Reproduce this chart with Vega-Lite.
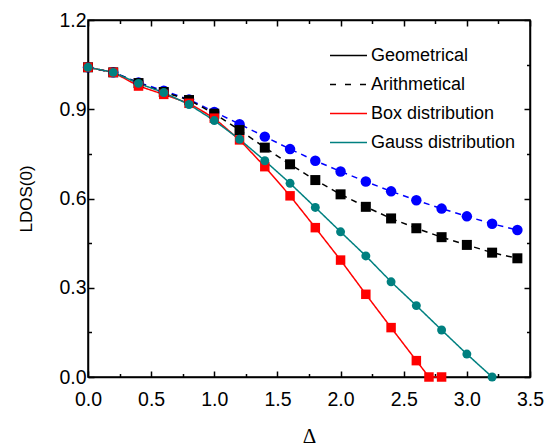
{
  "$schema": "https://vega.github.io/schema/vega-lite/v6.json",
  "width": 442,
  "height": 357,
  "autosize": {"type": "none"},
  "padding": {"left": 88, "top": 20, "right": 27, "bottom": 69},
  "background": "white",
  "config": {
    "view": {"stroke": "black", "strokeWidth": 1.5},
    "font": "Liberation Sans",
    "axis": {
      "domainColor": "black",
      "domainWidth": 1.5,
      "tickColor": "black",
      "tickWidth": 1.5,
      "grid": false,
      "labelColor": "black",
      "labelFontSize": 19.5,
      "labelFont": "Liberation Sans",
      "titleColor": "black",
      "titleFontWeight": "normal"
    }
  },
  "data": {
    "values": [
      {"series": "Geometrical", "x": 0.0, "y": 1.041},
      {"series": "Geometrical", "x": 0.2, "y": 1.024},
      {"series": "Geometrical", "x": 0.4, "y": 0.99},
      {"series": "Geometrical", "x": 0.6, "y": 0.962},
      {"series": "Geometrical", "x": 0.8, "y": 0.933},
      {"series": "Geometrical", "x": 1.0, "y": 0.891},
      {"series": "Geometrical", "x": 1.2, "y": 0.85},
      {"series": "Geometrical", "x": 1.4, "y": 0.808},
      {"series": "Geometrical", "x": 1.6, "y": 0.766},
      {"series": "Geometrical", "x": 1.8, "y": 0.727},
      {"series": "Geometrical", "x": 2.0, "y": 0.691},
      {"series": "Geometrical", "x": 2.2, "y": 0.657},
      {"series": "Geometrical", "x": 2.4, "y": 0.624},
      {"series": "Geometrical", "x": 2.6, "y": 0.594},
      {"series": "Geometrical", "x": 2.8, "y": 0.566},
      {"series": "Geometrical", "x": 3.0, "y": 0.54},
      {"series": "Geometrical", "x": 3.2, "y": 0.515},
      {"series": "Geometrical", "x": 3.4, "y": 0.494},
      {"series": "Arithmetical", "x": 0.0, "y": 1.041},
      {"series": "Arithmetical", "x": 0.2, "y": 1.024},
      {"series": "Arithmetical", "x": 0.4, "y": 0.988},
      {"series": "Arithmetical", "x": 0.6, "y": 0.958},
      {"series": "Arithmetical", "x": 0.8, "y": 0.931},
      {"series": "Arithmetical", "x": 1.0, "y": 0.885},
      {"series": "Arithmetical", "x": 1.2, "y": 0.83},
      {"series": "Arithmetical", "x": 1.4, "y": 0.771},
      {"series": "Arithmetical", "x": 1.6, "y": 0.715},
      {"series": "Arithmetical", "x": 1.8, "y": 0.662},
      {"series": "Arithmetical", "x": 2.0, "y": 0.614},
      {"series": "Arithmetical", "x": 2.2, "y": 0.572},
      {"series": "Arithmetical", "x": 2.4, "y": 0.533},
      {"series": "Arithmetical", "x": 2.6, "y": 0.5},
      {"series": "Arithmetical", "x": 2.8, "y": 0.47},
      {"series": "Arithmetical", "x": 3.0, "y": 0.444},
      {"series": "Arithmetical", "x": 3.2, "y": 0.418},
      {"series": "Arithmetical", "x": 3.4, "y": 0.399},
      {"series": "Box distribution", "x": 0.0, "y": 1.041},
      {"series": "Box distribution", "x": 0.2, "y": 1.024},
      {"series": "Box distribution", "x": 0.4, "y": 0.978},
      {"series": "Box distribution", "x": 0.6, "y": 0.95},
      {"series": "Box distribution", "x": 0.8, "y": 0.92},
      {"series": "Box distribution", "x": 1.0, "y": 0.87},
      {"series": "Box distribution", "x": 1.2, "y": 0.797},
      {"series": "Box distribution", "x": 1.4, "y": 0.707},
      {"series": "Box distribution", "x": 1.6, "y": 0.609},
      {"series": "Box distribution", "x": 1.8, "y": 0.502},
      {"series": "Box distribution", "x": 2.0, "y": 0.393},
      {"series": "Box distribution", "x": 2.2, "y": 0.278},
      {"series": "Box distribution", "x": 2.4, "y": 0.166},
      {"series": "Box distribution", "x": 2.6, "y": 0.055},
      {"series": "Box distribution", "x": 2.7, "y": 0.0},
      {"series": "Box distribution", "x": 2.8, "y": 0.0},
      {"series": "Gauss distribution", "x": 0.0, "y": 1.041},
      {"series": "Gauss distribution", "x": 0.2, "y": 1.024},
      {"series": "Gauss distribution", "x": 0.4, "y": 0.987},
      {"series": "Gauss distribution", "x": 0.6, "y": 0.956},
      {"series": "Gauss distribution", "x": 0.8, "y": 0.916},
      {"series": "Gauss distribution", "x": 1.0, "y": 0.862},
      {"series": "Gauss distribution", "x": 1.2, "y": 0.799},
      {"series": "Gauss distribution", "x": 1.4, "y": 0.727},
      {"series": "Gauss distribution", "x": 1.6, "y": 0.651},
      {"series": "Gauss distribution", "x": 1.8, "y": 0.57},
      {"series": "Gauss distribution", "x": 2.0, "y": 0.488},
      {"series": "Gauss distribution", "x": 2.2, "y": 0.407},
      {"series": "Gauss distribution", "x": 2.4, "y": 0.32},
      {"series": "Gauss distribution", "x": 2.6, "y": 0.24},
      {"series": "Gauss distribution", "x": 2.8, "y": 0.158},
      {"series": "Gauss distribution", "x": 3.0, "y": 0.077},
      {"series": "Gauss distribution", "x": 3.2, "y": 0.0}
    ]
  },
  "resolve": {
    "axis": {"x": "independent", "y": "independent"},
    "scale": {"color": "independent", "strokeDash": "independent"},
    "legend": {"color": "independent", "strokeDash": "independent"}
  },
  "layer": [
    {
      "mark": {"type": "line", "strokeWidth": 1.5},
      "encoding": {
        "x": {
          "field": "x", "type": "quantitative",
          "scale": {"domain": [0, 3.5], "nice": false, "zero": false},
          "axis": {
            "values": [0, 0.25, 0.5, 0.75, 1, 1.25, 1.5, 1.75, 2, 2.25, 2.5, 2.75, 3, 3.25, 3.5],
            "labelExpr": "indexof([0, 0.5, 1, 1.5, 2, 2.5, 3, 3.5], datum.value) >= 0 ? format(datum.value, '.1f') : ''",
            "tickSize": {"condition": {"test": "indexof([0, 0.5, 1, 1.5, 2, 2.5, 3, 3.5], datum.value) >= 0", "value": -6}, "value": -3.5},
            "labelPadding": 19,
            "labelFlush": false,
            "labelOverlap": false,
            "title": "Δ",
            "titleFont": "Liberation Serif",
            "titleFontSize": 21,
            "titlePadding": 14
          }
        },
        "y": {
          "field": "y", "type": "quantitative",
          "scale": {"domain": [0, 1.2], "nice": false, "zero": false},
          "axis": {
            "values": [0, 0.15, 0.3, 0.45, 0.6, 0.75, 0.9, 1.05, 1.2],
            "labelExpr": "indexof([0, 0.3, 0.6, 0.9, 1.2], datum.value) >= 0 ? format(datum.value, '.1f') : ''",
            "tickSize": {"condition": {"test": "indexof([0, 0.3, 0.6, 0.9, 1.2], datum.value) >= 0", "value": -6}, "value": -3.5},
            "labelPadding": 8,
            "labelFlush": false,
            "labelOverlap": false,
            "title": "LDOS(0)",
            "titleFont": "Liberation Sans",
            "titleFontSize": 17,
            "titlePadding": 23
          }
        },
        "color": {
          "field": "series", "type": "nominal",
          "scale": {
            "domain": ["Geometrical", "Arithmetical", "Box distribution", "Gauss distribution"],
            "range": ["#0000ff", "#000000", "#ff0000", "#008080"]
          },
          "legend": null
        },
        "strokeDash": {
          "field": "series", "type": "nominal",
          "scale": {
            "domain": ["Geometrical", "Arithmetical", "Box distribution", "Gauss distribution"],
            "range": [[6, 5], [6, 5], [1, 0], [1, 0]]
          },
          "legend": null
        }
      }
    },
    {
      "mark": {"type": "point", "filled": true, "opacity": 1, "strokeWidth": 0},
      "encoding": {
        "x": {"field": "x", "type": "quantitative", "axis": null},
        "y": {"field": "y", "type": "quantitative", "axis": null},
        "fill": {
          "field": "series", "type": "nominal",
          "scale": {
            "domain": ["Geometrical", "Arithmetical", "Box distribution", "Gauss distribution"],
            "range": ["#0000ff", "#000000", "#ff0000", "#008080"]
          },
          "legend": null
        },
        "shape": {
          "field": "series", "type": "nominal",
          "scale": {
            "domain": ["Geometrical", "Arithmetical", "Box distribution", "Gauss distribution"],
            "range": ["circle", "square", "square", "circle"]
          },
          "legend": null
        },
        "size": {
          "field": "series", "type": "nominal",
          "scale": {
            "domain": ["Geometrical", "Arithmetical", "Box distribution", "Gauss distribution"],
            "range": [110, 80, 80, 110]
          },
          "legend": null
        }
      }
    },
    {
      "mark": {"type": "point", "opacity": 0, "filled": false},
      "encoding": {
        "x": {
          "field": "x", "type": "quantitative",
          "axis": {
            "orient": "top",
            "values": [0, 0.25, 0.5, 0.75, 1, 1.25, 1.5, 1.75, 2, 2.25, 2.5, 2.75, 3, 3.25, 3.5],
            "labels": false,
            "title": null,
            "tickSize": {"condition": {"test": "indexof([0, 0.5, 1, 1.5, 2, 2.5, 3, 3.5], datum.value) >= 0", "value": -6}, "value": -3.5}
          }
        },
        "y": {
          "field": "y", "type": "quantitative",
          "axis": {
            "orient": "right",
            "values": [0, 0.15, 0.3, 0.45, 0.6, 0.75, 0.9, 1.05, 1.2],
            "labels": false,
            "title": null,
            "tickSize": {"condition": {"test": "indexof([0, 0.3, 0.6, 0.9, 1.2], datum.value) >= 0", "value": -6}, "value": -3.5}
          }
        },
        "color": {
          "field": "series", "type": "nominal",
          "scale": {
            "domain": ["Geometrical", "Arithmetical", "Box distribution", "Gauss distribution"],
            "range": ["#000000", "#000000", "#ff0000", "#008080"]
          },
          "legend": {
            "orient": "none",
            "legendX": 241,
            "legendY": 16,
            "title": null,
            "padding": 0,
            "labelFontSize": 18,
            "labelFont": "Liberation Sans",
            "labelColor": "black",
            "symbolType": "stroke",
            "symbolSize": 1369,
            "symbolStrokeWidth": 1.5,
            "symbolOpacity": 1,
            "rowPadding": -3.5,
            "labelOffset": 3
          }
        },
        "strokeDash": {
          "field": "series", "type": "nominal",
          "scale": {
            "domain": ["Geometrical", "Arithmetical", "Box distribution", "Gauss distribution"],
            "range": [[1, 0], [6, 9], [1, 0], [1, 0]]
          },
          "legend": {
            "orient": "none",
            "legendX": 241,
            "legendY": 16,
            "title": null,
            "padding": 0,
            "labelFontSize": 18,
            "labelFont": "Liberation Sans",
            "labelColor": "black",
            "symbolType": "stroke",
            "symbolSize": 1369,
            "symbolStrokeWidth": 1.5,
            "symbolOpacity": 1,
            "rowPadding": -3.5,
            "labelOffset": 3
          }
        }
      }
    }
  ]
}
